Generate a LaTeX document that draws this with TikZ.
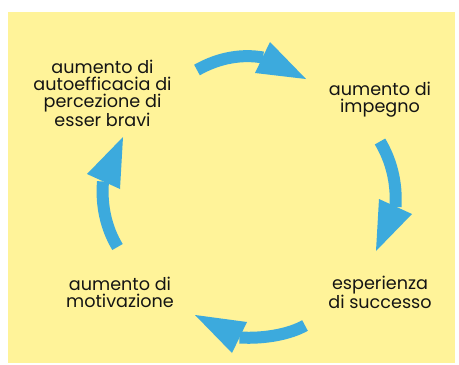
\documentclass[tikz,border=0pt]{standalone}
\usepackage{fontspec}
\setmainfont{Poppins}
\definecolor{bgyellow}{RGB}{255,243,153}
\definecolor{arrowblue}{RGB}{60,170,221}
\definecolor{textdark}{RGB}{20,20,20}
\begin{document}
\begin{tikzpicture}[x=1pt,y=-1pt,
  label/.style={anchor=base,align=center,inner sep=0pt,text=textdark,
    font=\fontsize{17.6}{16.8}\selectfont},
  shaft/.style={draw=arrowblue,line width=12pt},
  head/.style={fill=arrowblue,draw=none}]
\useasboundingbox (0,0) rectangle (459,365);
\fill[bgyellow] (8,12) rectangle (455,363);
% labels (anchor = baseline of last line)
\node[label] (n1) at (102.5,126) {aumento di\\autoefficacia di\\percezione di\\esser bravi};
\node[label] (n2) at (380,112) {aumento di\\impegno};
\node[label] (n3) at (380,308) {esperienza\\di successo};
\node[label] (n4) at (120,307) {aumento di\\motivazione};
% arrow coordinates
\coordinate (a1t) at (197,70);   \coordinate (a1b) at (263,57.5);
\coordinate (a1p) at (306,79);   \coordinate (a1c) at (270,42);  \coordinate (a1d) at (255,73);
\coordinate (a2t) at (380,141.5);\coordinate (a2b) at (395.5,207);
\coordinate (a2p) at (376,251);  \coordinate (a2c) at (379,199); \coordinate (a2d) at (412,214);
\coordinate (a3t) at (305,325.5);\coordinate (a3b) at (239.5,337.5);
\coordinate (a3p) at (195,315);  \coordinate (a3c) at (247,322); \coordinate (a3d) at (232,353);
\coordinate (a4t) at (117.5,247);\coordinate (a4b) at (103,181.5);
\coordinate (a4p) at (123,137);  \coordinate (a4c) at (87,174);  \coordinate (a4d) at (120,189);
% arrows
\draw[shaft] (a1t) .. controls (220,57) and (243,54) .. (a1b);
\fill[head] (a1c) -- (a1p) -- (a1d) -- cycle;
\draw[shaft] (a2t) .. controls (391,160) and (397,182) .. (a2b);
\fill[head] (a2c) -- (a2p) -- (a2d) -- cycle;
\draw[shaft] (a3t) .. controls (290,334) and (265,339) .. (a3b);
\fill[head] (a3c) -- (a3p) -- (a3d) -- cycle;
\draw[shaft] (a4t) .. controls (106,228) and (101,205) .. (a4b);
\fill[head] (a4c) -- (a4p) -- (a4d) -- cycle;
\end{tikzpicture}
\end{document}
